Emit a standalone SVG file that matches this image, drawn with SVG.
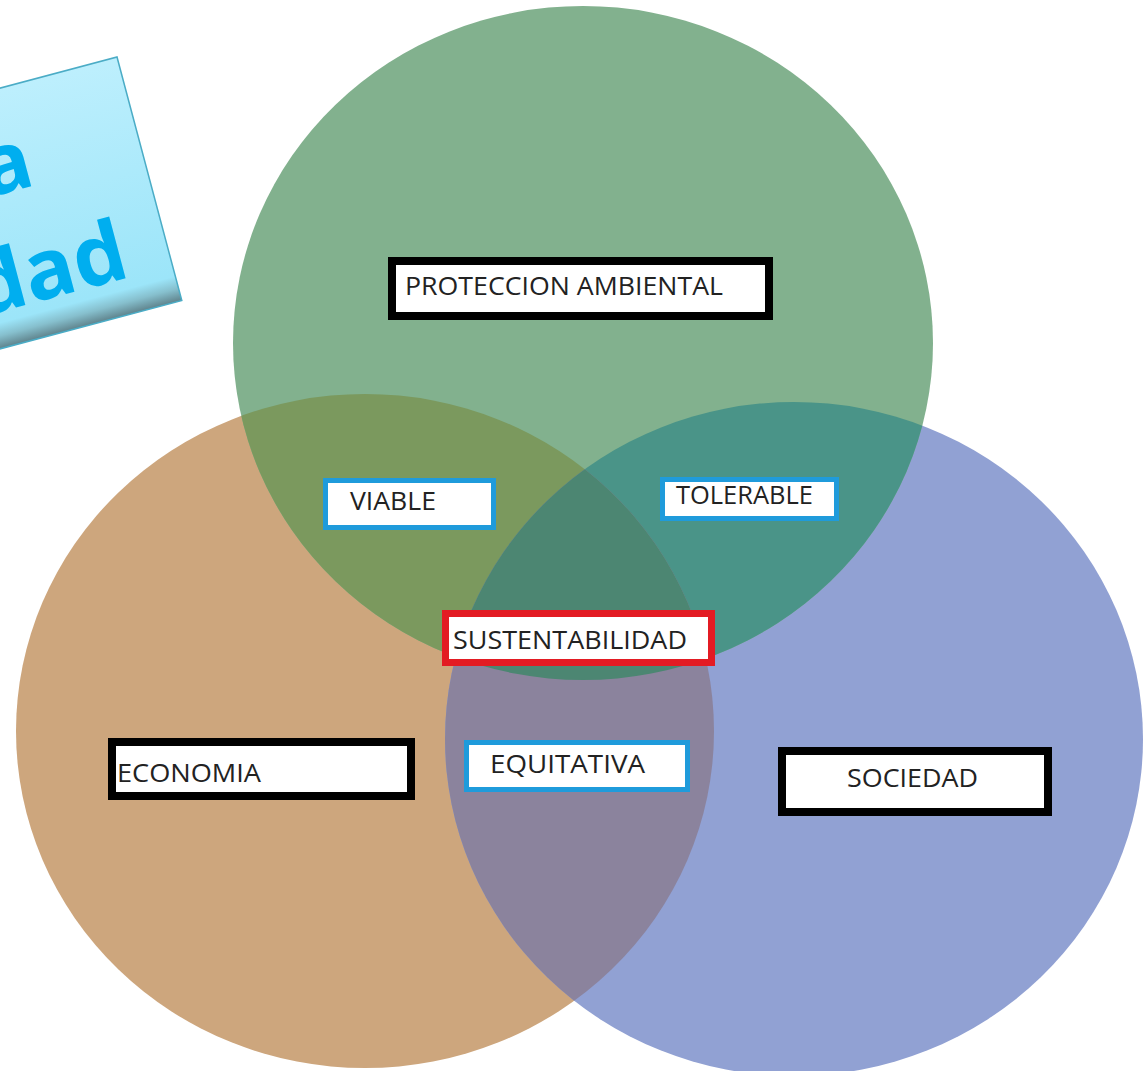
<svg xmlns="http://www.w3.org/2000/svg" width="1147" height="1071" viewBox="0 0 1147 1071">
<style>
.lbl{font-family:"Open Sans","Liberation Sans",sans-serif;font-size:25px;fill:#222;}
.blk{fill:#fff;stroke:#000;stroke-width:8;}
.blu{fill:#fff;stroke:#1F9BDB;stroke-width:5;}
.red{fill:#fff;stroke:#E31B23;stroke-width:7;}
.ttl{font-family:"Open Sans","Liberation Sans",sans-serif;font-weight:700;font-size:84px;fill:#00AEEF;}
</style>
<defs>
<clipPath id="cG"><ellipse cx="583" cy="343" rx="350" ry="337"/></clipPath>
<clipPath id="cE"><ellipse cx="365" cy="731" rx="349" ry="337"/></clipPath>
<clipPath id="cS"><ellipse cx="794" cy="739" rx="349" ry="337"/></clipPath>
<linearGradient id="boxg" x1="0" y1="0" x2="0" y2="1">
<stop offset="0" stop-color="#BDEFFD"/>
<stop offset="0.9" stop-color="#9CE5F9"/>
<stop offset="0.95" stop-color="#86BFCD"/>
<stop offset="1" stop-color="#5F838C"/>
</linearGradient>
</defs>
<rect width="1147" height="1071" fill="#fff"/>
<g id="title">
<g transform="translate(117,57) rotate(-14.9)">
<rect x="-420" y="0" width="420" height="252" fill="url(#boxg)" stroke="#4BACC6" stroke-width="1.5"/>
<text class="ttl" x="-110" y="103" text-anchor="end">a</text>
<text class="ttl" x="-42" y="216" text-anchor="end">dad</text>
</g>
</g>
<g id="circles">
<ellipse id="circle-economia" cx="365" cy="731" rx="349" ry="337" fill="#CDA67D"/>
<ellipse id="circle-sociedad" cx="794" cy="739" rx="349" ry="337" fill="#91A1D3"/>
<ellipse id="circle-ambiental" cx="583" cy="343" rx="350" ry="337" fill="#82B18E"/>
<ellipse cx="365" cy="731" rx="349" ry="337" fill="#7B995E" clip-path="url(#cG)"/>
<ellipse cx="794" cy="739" rx="349" ry="337" fill="#4A9488" clip-path="url(#cG)"/>
<ellipse cx="794" cy="739" rx="349" ry="337" fill="#8B839D" clip-path="url(#cE)"/>
<g clip-path="url(#cG)"><ellipse cx="794" cy="739" rx="349" ry="337" fill="#4C8672" clip-path="url(#cE)"/></g>
</g>
<g id="connectors"></g>
<g id="node-proteccion">
<rect class="blk" x="392" y="261" width="377" height="55"/>
<text class="lbl" x="405" y="295" textLength="318" lengthAdjust="spacingAndGlyphs">PROTECCION AMBIENTAL</text>
</g>
<g id="node-viable">
<rect class="blu" x="325.5" y="480.5" width="168" height="47"/>
<text class="lbl" x="350" y="510" textLength="86" lengthAdjust="spacingAndGlyphs">VIABLE</text>
</g>
<g id="node-tolerable">
<rect class="blu" x="662.5" y="479.5" width="174" height="39"/>
<text class="lbl" x="676" y="504" textLength="137" lengthAdjust="spacingAndGlyphs">TOLERABLE</text>
</g>
<g id="node-sustentabilidad">
<rect class="red" x="445.5" y="613.5" width="266" height="49"/>
<text class="lbl" x="453" y="649" textLength="234" lengthAdjust="spacingAndGlyphs">SUSTENTABILIDAD</text>
</g>
<g id="node-economia">
<rect class="blk" x="112" y="742" width="299" height="54"/>
<text class="lbl" x="117" y="782" textLength="144" lengthAdjust="spacingAndGlyphs">ECONOMIA</text>
</g>
<g id="node-equitativa">
<rect class="blu" x="466.5" y="742.5" width="221" height="47"/>
<text class="lbl" x="490" y="773" textLength="155" lengthAdjust="spacingAndGlyphs">EQUITATIVA</text>
</g>
<g id="node-sociedad">
<rect class="blk" x="782" y="751" width="266" height="61"/>
<text class="lbl" x="847" y="787" textLength="131" lengthAdjust="spacingAndGlyphs">SOCIEDAD</text>
</g>
</svg>
